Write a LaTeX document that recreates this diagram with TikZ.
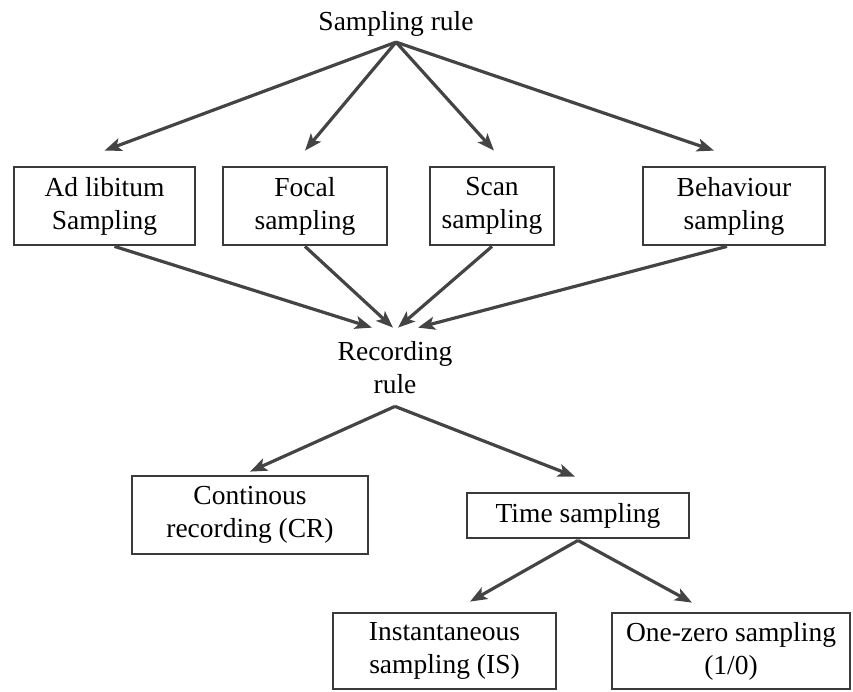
\documentclass[tikz,border=0pt]{standalone}
\usepackage{fontspec}
\setmainfont{Liberation Serif}
\usetikzlibrary{arrows.meta}

\definecolor{linegray}{HTML}{444444}
\definecolor{boxgray}{HTML}{3A3A3A}

\begin{document}
\begin{tikzpicture}[x=1pt, y=-1pt,
    every node/.style={font=\fontsize{27.5}{33}\selectfont, align=center, inner sep=0pt},
    box/.style={draw=boxgray, line width=2.8pt, minimum height=78pt},
    arr/.style={draw=linegray, line width=3.2pt, -{Stealth[length=17pt, width=13pt, inset=4pt]}}]
    \useasboundingbox (0,0) rectangle (853,691);

    % top level
    \node[anchor=base] (samp) at (396,30) {Sampling rule};
    \node[box, minimum width=181pt] (adlib) at (104.5,206) {Ad libitum\\Sampling};
    \node[box, minimum width=164pt] (focal) at (305,206) {Focal\\sampling};
    \node[box, minimum width=124pt] (scan) at (492,206) {Scan\\sampling};
    \node[box, minimum width=182pt] (behav) at (734,206) {Behaviour\\sampling};

    \foreach \n/\dx in {adlib/0, focal/0, scan/2, behav/-20} {
        \draw[arr] ([yshift=-6pt]samp.south) -- ([xshift=\dx pt, yshift=15pt]\n.north);
    }

    % recording rule
    \node (rec) at (395,368) {Recording\\rule};
    \foreach \n/\dx/\ex in {adlib/10/-23, focal/0/-2, scan/0/3, behav/-7/23} {
        \draw[arr] ([xshift=\dx pt]\n.south) -- ([xshift=\ex pt, yshift=14pt]rec.north);
    }

    \node[box, minimum width=236pt] (cont) at (250,515) {Continous\\recording (CR)};
    \node[box, minimum width=222pt, minimum height=45pt] (time) at (578,515.5) {Time sampling};
    \draw[arr] ([yshift=-12pt]rec.south) -- ([yshift=3pt]cont.north);
    \draw[arr] ([yshift=-12pt]rec.south) -- ([xshift=-3pt, yshift=15pt]time.north);

    % time sampling
    \node[box, minimum width=223pt, minimum height=76pt] (inst) at (444.5,651) {Instantaneous\\sampling (IS)};
    \node[box, minimum width=238pt, minimum height=76pt] (onezero) at (731,651) {One-zero sampling\\(1/0)};
    \draw[arr] ([yshift=-1pt]time.south) -- ([xshift=25.5pt, yshift=10pt]inst.north);
    \draw[arr] ([yshift=-1pt]time.south) -- ([xshift=-39pt, yshift=9pt]onezero.north);
\end{tikzpicture}
\end{document}
